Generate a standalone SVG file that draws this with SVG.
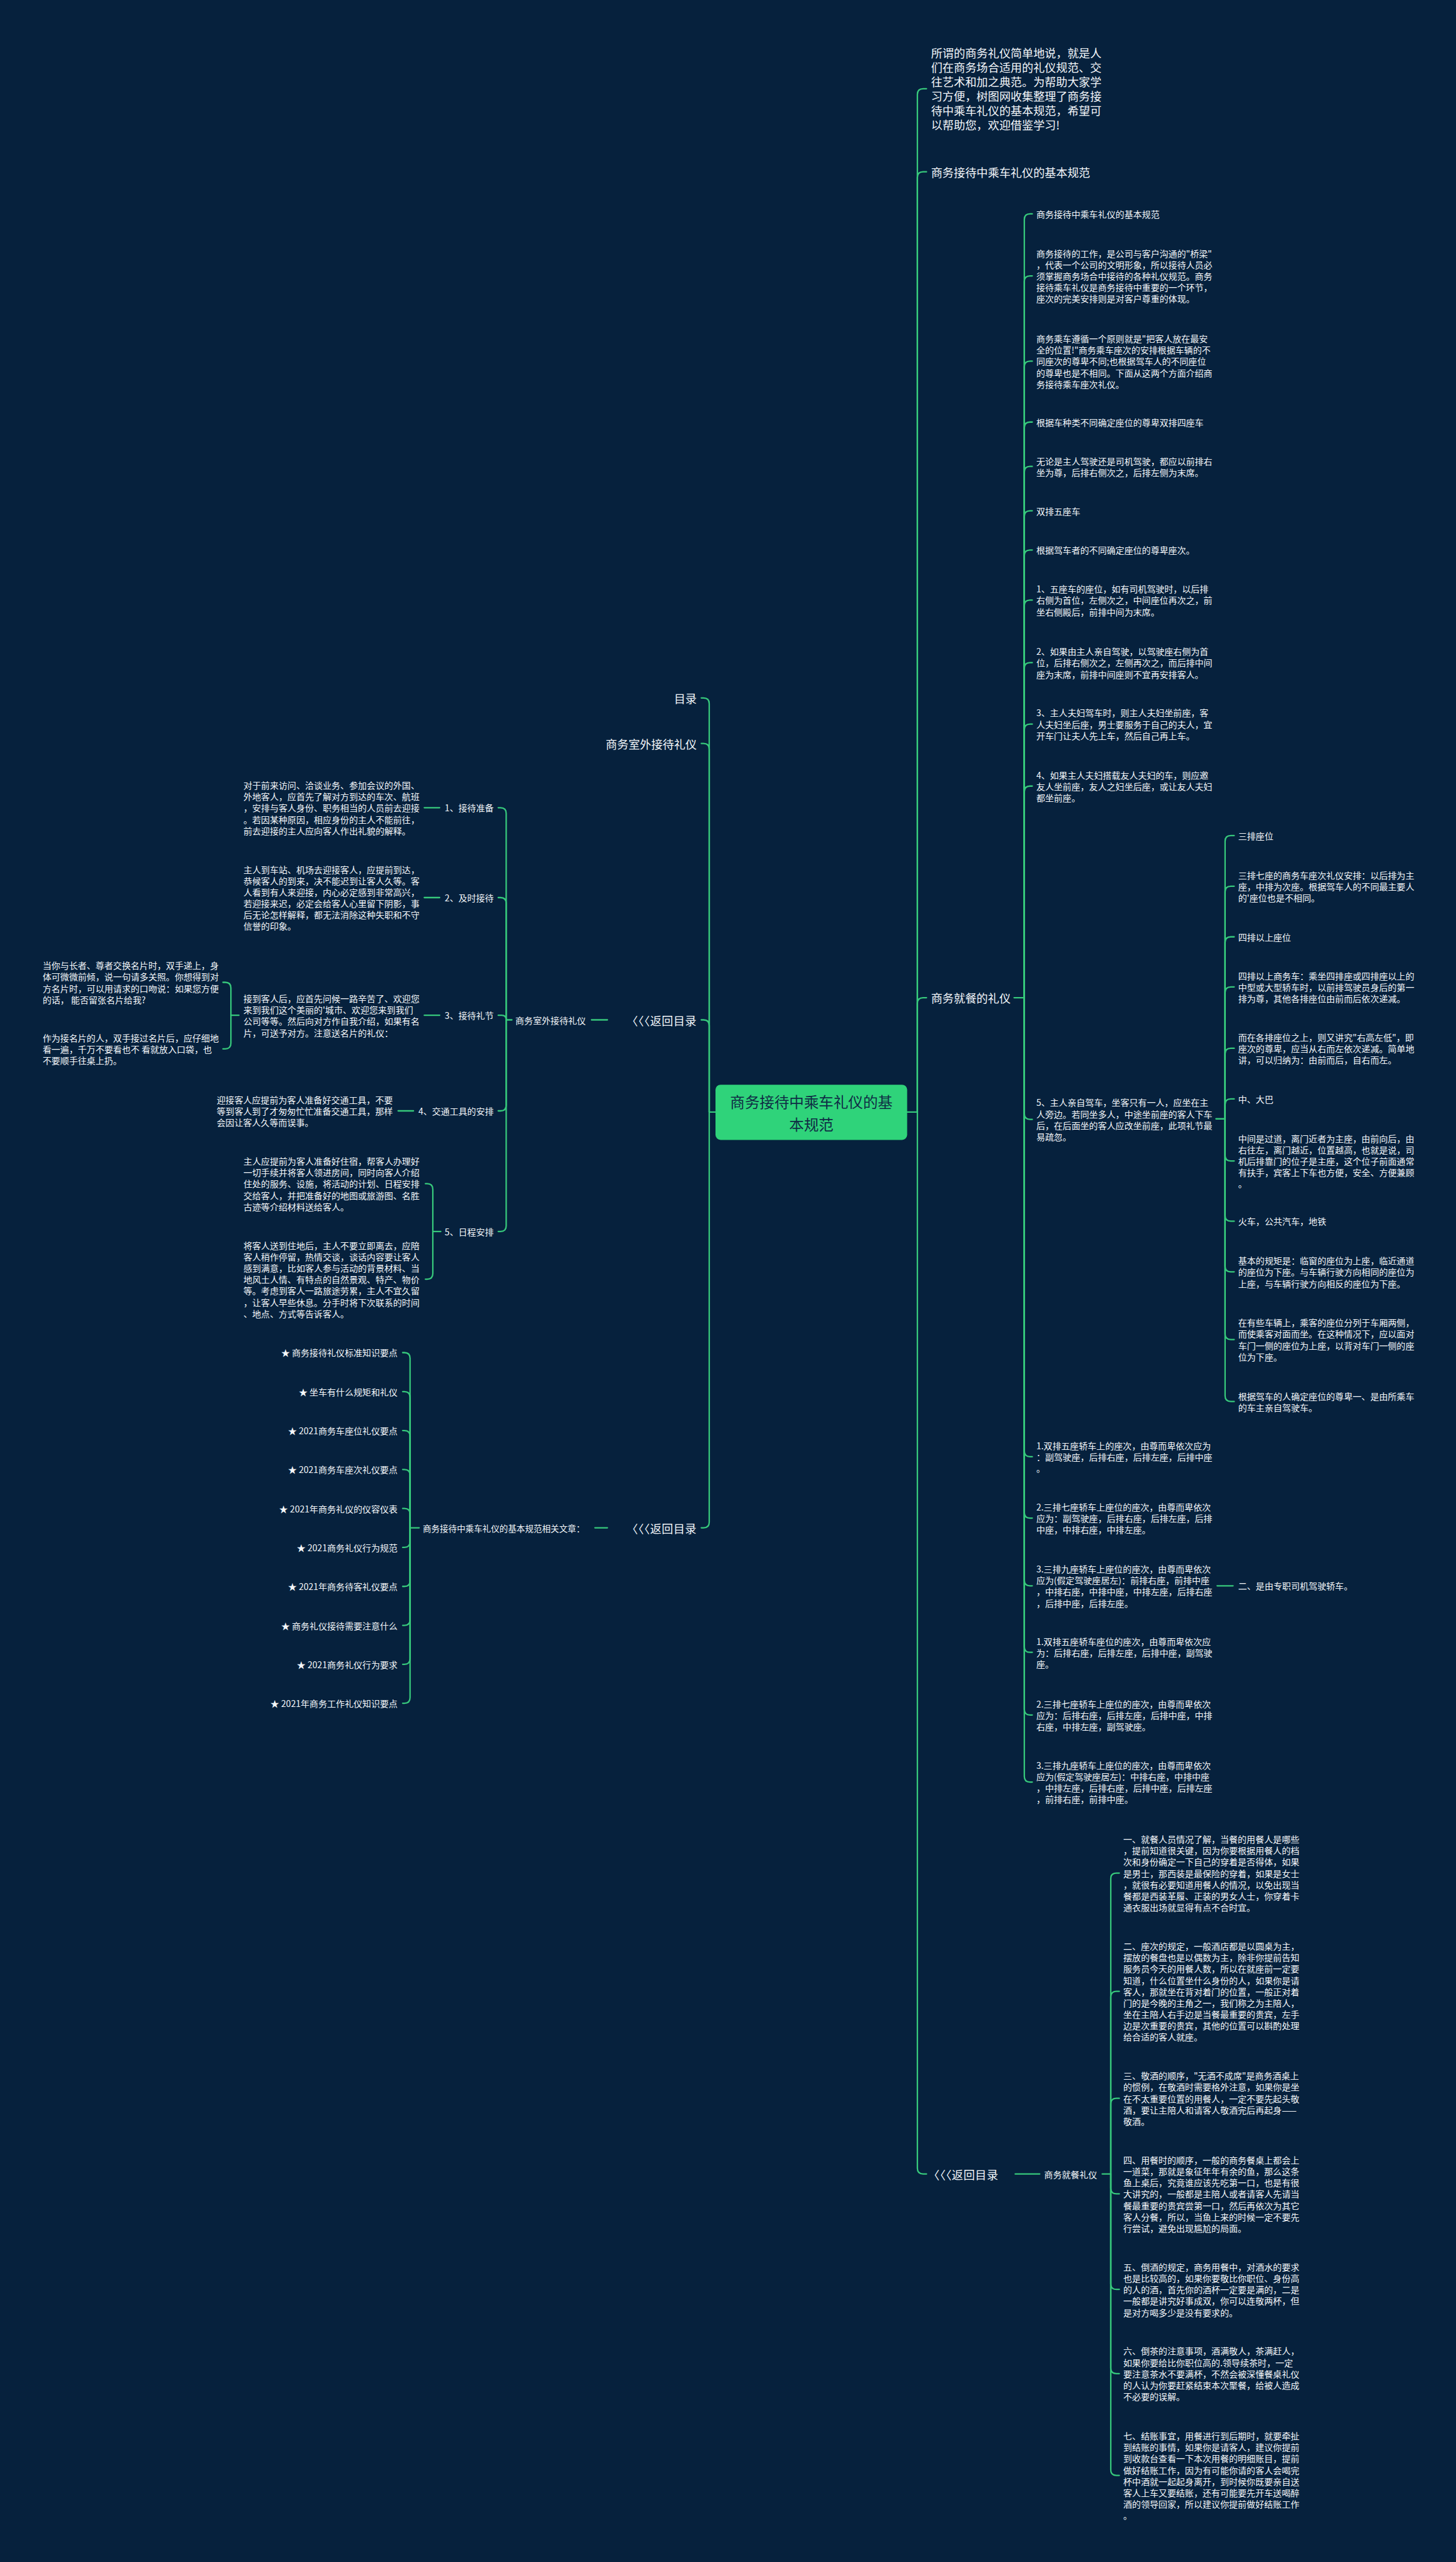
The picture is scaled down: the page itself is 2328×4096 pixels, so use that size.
<svg xmlns="http://www.w3.org/2000/svg" width="2328" height="4096" viewBox="0 0 2328 4096">
<style>
.ln{fill:none;stroke:#37c97c;stroke-width:2.5;stroke-linecap:round;stroke-linejoin:round}
.t{fill:#f4f7fa;font-family:"Noto Sans CJK SC","Liberation Sans",sans-serif;font-size:15.5px;dominant-baseline:central}
.b{font-size:20px}
.r{font-size:20px;letter-spacing:0.5px}
.s{font-size:15px}
.e{text-anchor:end}
.ct{fill:#0f2c45;font-family:"Noto Sans CJK SC","Liberation Sans",sans-serif;font-size:26px;text-anchor:middle;dominant-baseline:central}
</style>
<rect x="0" y="0" width="2328" height="4096" fill="#06213d"/>
<g transform="scale(0.909375)">
<g id="connectors">
<path class="ln" d="M1595,1955 L1613,1955"/>
<path class="ln" d="M1613,1955 L1613,166 Q1613,156 1623,156 L1629,156"/>
<path class="ln" d="M1613,1955 L1613,312 Q1613,302 1623,302 L1629,302"/>
<path class="ln" d="M1613,1955 L1613,1764 Q1613,1754 1623,1754 L1629,1754"/>
<path class="ln" d="M1613,1955 L1613,3812 Q1613,3822 1623,3822 L1629,3822"/>
<path class="ln" d="M1783,1754 L1801,1754"/>
<path class="ln" d="M1801,1754 L1801,386 Q1801,376 1811,376 L1815,376"/>
<path class="ln" d="M1801,1754 L1801,495 Q1801,485 1811,485 L1815,485"/>
<path class="ln" d="M1801,1754 L1801,645 Q1801,635 1811,635 L1815,635"/>
<path class="ln" d="M1801,1754 L1801,752 Q1801,742 1811,742 L1815,742"/>
<path class="ln" d="M1801,1754 L1801,830 Q1801,820 1811,820 L1815,820"/>
<path class="ln" d="M1801,1754 L1801,908 Q1801,898 1811,898 L1815,898"/>
<path class="ln" d="M1801,1754 L1801,977 Q1801,967 1811,967 L1815,967"/>
<path class="ln" d="M1801,1754 L1801,1065 Q1801,1055 1811,1055 L1815,1055"/>
<path class="ln" d="M1801,1754 L1801,1175 Q1801,1165 1811,1165 L1815,1165"/>
<path class="ln" d="M1801,1754 L1801,1283 Q1801,1273 1811,1273 L1815,1273"/>
<path class="ln" d="M1801,1754 L1801,1392 Q1801,1382 1811,1382 L1815,1382"/>
<path class="ln" d="M1801,1754 L1801,1958 Q1801,1968 1811,1968 L1815,1968"/>
<path class="ln" d="M1801,1754 L1801,2551 Q1801,2561 1811,2561 L1815,2561"/>
<path class="ln" d="M1801,1754 L1801,2659 Q1801,2669 1811,2669 L1815,2669"/>
<path class="ln" d="M1801,1754 L1801,2778 Q1801,2788 1811,2788 L1815,2788"/>
<path class="ln" d="M1801,1754 L1801,2895 Q1801,2905 1811,2905 L1815,2905"/>
<path class="ln" d="M1801,1754 L1801,3005 Q1801,3015 1811,3015 L1815,3015"/>
<path class="ln" d="M1801,1754 L1801,3123 Q1801,3133 1811,3133 L1815,3133"/>
<path class="ln" d="M2138,1967 L2154,1967"/>
<path class="ln" d="M2154,1967 L2154,1479 Q2154,1469 2164,1469 L2170,1469"/>
<path class="ln" d="M2154,1967 L2154,1568 Q2154,1558 2164,1558 L2170,1558"/>
<path class="ln" d="M2154,1967 L2154,1657 Q2154,1647 2164,1647 L2170,1647"/>
<path class="ln" d="M2154,1967 L2154,1745 Q2154,1735 2164,1735 L2170,1735"/>
<path class="ln" d="M2154,1967 L2154,1853 Q2154,1843 2164,1843 L2170,1843"/>
<path class="ln" d="M2154,1967 L2154,1942 Q2154,1932 2164,1932 L2170,1932"/>
<path class="ln" d="M2154,1967 L2154,2031 Q2154,2041 2164,2041 L2170,2041"/>
<path class="ln" d="M2154,1967 L2154,2137 Q2154,2147 2164,2147 L2170,2147"/>
<path class="ln" d="M2154,1967 L2154,2226 Q2154,2236 2164,2236 L2170,2236"/>
<path class="ln" d="M2154,1967 L2154,2345 Q2154,2355 2164,2355 L2170,2355"/>
<path class="ln" d="M2154,1967 L2154,2454 Q2154,2464 2164,2464 L2170,2464"/>
<path class="ln" d="M2140,2788 L2168,2788"/>
<path class="ln" d="M1785,3822 L1828,3822"/>
<path class="ln" d="M1938,3822 L1953,3822"/>
<path class="ln" d="M1953,3822 L1953,3303 Q1953,3293 1963,3293 L1968,3293"/>
<path class="ln" d="M1953,3822 L1953,3511 Q1953,3501 1963,3501 L1968,3501"/>
<path class="ln" d="M1953,3822 L1953,3699 Q1953,3689 1963,3689 L1968,3689"/>
<path class="ln" d="M1953,3822 L1953,3847 Q1953,3857 1963,3857 L1968,3857"/>
<path class="ln" d="M1953,3822 L1953,4015 Q1953,4025 1963,4025 L1968,4025"/>
<path class="ln" d="M1953,3822 L1953,4163 Q1953,4173 1963,4173 L1968,4173"/>
<path class="ln" d="M1953,3822 L1953,4342 Q1953,4352 1963,4352 L1968,4352"/>
<path class="ln" d="M1258,1955 L1247,1955"/>
<path class="ln" d="M1247,1955 L1247,1237 Q1247,1227 1237,1227 L1233,1227"/>
<path class="ln" d="M1247,1955 L1247,1317 Q1247,1307 1237,1307 L1233,1307"/>
<path class="ln" d="M1247,1955 L1247,1803 Q1247,1793 1237,1793 L1233,1793"/>
<path class="ln" d="M1247,1955 L1247,2676 Q1247,2686 1237,2686 L1233,2686"/>
<path class="ln" d="M1068,1793 L1040,1793"/>
<path class="ln" d="M900,1793 L890,1793"/>
<path class="ln" d="M890,1793 L890,1430 Q890,1420 880,1420 L876,1420"/>
<path class="ln" d="M890,1793 L890,1588 Q890,1578 880,1578 L876,1578"/>
<path class="ln" d="M890,1793 Q890,1785 882,1785 L876,1785"/>
<path class="ln" d="M890,1793 L890,1943 Q890,1953 880,1953 L876,1953"/>
<path class="ln" d="M890,1793 L890,2155 Q890,2165 880,2165 L876,2165"/>
<path class="ln" d="M773,1420 L746,1420"/>
<path class="ln" d="M773,1578 L746,1578"/>
<path class="ln" d="M773,1785 L746,1785"/>
<path class="ln" d="M420,1785 L406,1785"/>
<path class="ln" d="M406,1785 L406,1737 Q406,1727 396,1727 L392,1727"/>
<path class="ln" d="M406,1785 L406,1834 Q406,1844 396,1844 L392,1844"/>
<path class="ln" d="M727,1953 L700,1953"/>
<path class="ln" d="M775,2165 L761,2165"/>
<path class="ln" d="M761,2165 L761,2091 Q761,2081 751,2081 L748,2081"/>
<path class="ln" d="M761,2165 L761,2239 Q761,2249 751,2249 L748,2249"/>
<path class="ln" d="M1068,2686 L1046,2686"/>
<path class="ln" d="M737,2686 L721,2686"/>
<path class="ln" d="M721,2686 L721,2388 Q721,2378 711,2378 L708,2378"/>
<path class="ln" d="M721,2686 L721,2456.5 Q721,2446.5 711,2446.5 L708,2446.5"/>
<path class="ln" d="M721,2686 L721,2525 Q721,2515 711,2515 L708,2515"/>
<path class="ln" d="M721,2686 L721,2593.5 Q721,2583.5 711,2583.5 L708,2583.5"/>
<path class="ln" d="M721,2686 L721,2662 Q721,2652 711,2652 L708,2652"/>
<path class="ln" d="M721,2686 L721,2710.5 Q721,2720.5 711,2720.5 L708,2720.5"/>
<path class="ln" d="M721,2686 L721,2779 Q721,2789 711,2789 L708,2789"/>
<path class="ln" d="M721,2686 L721,2847.5 Q721,2857.5 711,2857.5 L708,2857.5"/>
<path class="ln" d="M721,2686 L721,2916 Q721,2926 711,2926 L708,2926"/>
<path class="ln" d="M721,2686 L721,2984.5 Q721,2994.5 711,2994.5 L708,2994.5"/>
</g>
<g id="n-center">
<rect x="1258" y="1907" width="337" height="97" rx="9" fill="#2fd37a"/>
<text class="ct"><tspan x="1426.5" y="1937">商务接待中乘车礼仪的基</tspan><tspan x="1426.5" y="1976">本规范</tspan></text>
</g>
<g id="n-intro"><text class="t b"><tspan x="1637" y="92">所谓的商务礼仪简单地说，就是人</tspan><tspan x="1637" y="117.4">们在商务场合适用的礼仪规范、交</tspan><tspan x="1637" y="142.8">往艺术和加之典范。为帮助大家学</tspan><tspan x="1637" y="168.2">习方便，树图网收集整理了商务接</tspan><tspan x="1637" y="193.6">待中乘车礼仪的基本规范，希望可</tspan><tspan x="1637" y="219">以帮助您，欢迎借鉴学习!</tspan></text></g>
<g id="n-r-title"><text class="t b" x="1637" y="302">商务接待中乘车礼仪的基本规范</text></g>
<g id="n-r-dining"><text class="t b" x="1637" y="1754">商务就餐的礼仪</text></g>
<g id="n-r-back"><text class="t r" x="1632" y="3822">〈〈〈返回目录</text></g>
<g id="n-a"><text class="t" x="1822" y="376">商务接待中乘车礼仪的基本规范</text></g>
<g id="n-b"><text class="t"><tspan x="1822" y="445">商务接待的工作，是公司与客户沟通的"桥梁"</tspan><tspan x="1822" y="465">，代表一个公司的文明形象，所以接待人员必</tspan><tspan x="1822" y="485">须掌握商务场合中接待的各种礼仪规范。商务</tspan><tspan x="1822" y="505">接待乘车礼仪是商务接待中重要的一个环节，</tspan><tspan x="1822" y="525">座次的完美安排则是对客户尊重的体现。</tspan></text></g>
<g id="n-c"><text class="t"><tspan x="1822" y="595">商务乘车遵循一个原则就是"把客人放在最安</tspan><tspan x="1822" y="615">全的位置!"商务乘车座次的安排根据车辆的不</tspan><tspan x="1822" y="635">同座次的尊卑不同;也根据驾车人的不同座位</tspan><tspan x="1822" y="655">的尊卑也是不相同。下面从这两个方面介绍商</tspan><tspan x="1822" y="675">务接待乘车座次礼仪。</tspan></text></g>
<g id="n-d"><text class="t" x="1822" y="742">根据车种类不同确定座位的尊卑双排四座车</text></g>
<g id="n-e"><text class="t"><tspan x="1822" y="810">无论是主人驾驶还是司机驾驶，都应以前排右</tspan><tspan x="1822" y="830">坐为尊，后排右侧次之，后排左侧为末席。</tspan></text></g>
<g id="n-f"><text class="t" x="1822" y="898">双排五座车</text></g>
<g id="n-g"><text class="t" x="1822" y="967">根据驾车者的不同确定座位的尊卑座次。</text></g>
<g id="n-h"><text class="t"><tspan x="1822" y="1035">1、五座车的座位，如有司机驾驶时，以后排</tspan><tspan x="1822" y="1055">右侧为首位，左侧次之，中间座位再次之，前</tspan><tspan x="1822" y="1075">坐右侧殿后，前排中间为末席。</tspan></text></g>
<g id="n-i"><text class="t"><tspan x="1822" y="1145">2、如果由主人亲自驾驶，以驾驶座右侧为首</tspan><tspan x="1822" y="1165">位，后排右侧次之，左侧再次之，而后排中间</tspan><tspan x="1822" y="1185">座为末席，前排中间座则不宜再安排客人。</tspan></text></g>
<g id="n-j"><text class="t"><tspan x="1822" y="1253">3、主人夫妇驾车时，则主人夫妇坐前座，客</tspan><tspan x="1822" y="1273">人夫妇坐后座，男士要服务于自己的夫人，宜</tspan><tspan x="1822" y="1293">开车门让夫人先上车，然后自己再上车。</tspan></text></g>
<g id="n-k"><text class="t"><tspan x="1822" y="1362">4、如果主人夫妇搭载友人夫妇的车，则应邀</tspan><tspan x="1822" y="1382">友人坐前座，友人之妇坐后座，或让友人夫妇</tspan><tspan x="1822" y="1402">都坐前座。</tspan></text></g>
<g id="n-l"><text class="t"><tspan x="1822" y="1938">5、主人亲自驾车，坐客只有一人，应坐在主</tspan><tspan x="1822" y="1958">人旁边。若同坐多人，中途坐前座的客人下车</tspan><tspan x="1822" y="1978">后，在后面坐的客人应改坐前座，此项礼节最</tspan><tspan x="1822" y="1998">易疏忽。</tspan></text></g>
<g id="n-l1"><text class="t" x="2177" y="1469">三排座位</text></g>
<g id="n-l2"><text class="t"><tspan x="2177" y="1538">三排七座的商务车座次礼仪安排：以后排为主</tspan><tspan x="2177" y="1558">座，中排为次座。根据驾车人的不同最主要人</tspan><tspan x="2177" y="1578">的'座位也是不相同。</tspan></text></g>
<g id="n-l3"><text class="t" x="2177" y="1647">四排以上座位</text></g>
<g id="n-l4"><text class="t"><tspan x="2177" y="1715">四排以上商务车：乘坐四排座或四排座以上的</tspan><tspan x="2177" y="1735">中型或大型轿车时，以前排驾驶员身后的第一</tspan><tspan x="2177" y="1755">排为尊，其他各排座位由前而后依次递减。</tspan></text></g>
<g id="n-l5"><text class="t"><tspan x="2177" y="1823">而在各排座位之上，则又讲究"右高左低"，即</tspan><tspan x="2177" y="1843">座次的尊卑，应当从右而左依次递减。简单地</tspan><tspan x="2177" y="1863">讲，可以归纳为：由前而后，自右而左。</tspan></text></g>
<g id="n-l6"><text class="t" x="2177" y="1932">中、大巴</text></g>
<g id="n-l7"><text class="t"><tspan x="2177" y="2001">中间是过道，离门近者为主座，由前向后，由</tspan><tspan x="2177" y="2021">右往左，离门越近，位置越高，也就是说，司</tspan><tspan x="2177" y="2041">机后排靠门的位子是主座，这个位子前面通常</tspan><tspan x="2177" y="2061">有扶手，宾客上下车也方便，安全、方便兼顾</tspan><tspan x="2177" y="2081">。</tspan></text></g>
<g id="n-l8"><text class="t" x="2177" y="2147">火车，公共汽车，地铁</text></g>
<g id="n-l9"><text class="t"><tspan x="2177" y="2216">基本的规矩是：临窗的座位为上座，临近通道</tspan><tspan x="2177" y="2236">的座位为下座。与车辆行驶方向相同的座位为</tspan><tspan x="2177" y="2256">上座，与车辆行驶方向相反的座位为下座。</tspan></text></g>
<g id="n-l10"><text class="t"><tspan x="2177" y="2325">在有些车辆上，乘客的座位分列于车厢两侧，</tspan><tspan x="2177" y="2345">而使乘客对面而坐。在这种情况下，应以面对</tspan><tspan x="2177" y="2365">车门一侧的座位为上座，以背对车门一侧的座</tspan><tspan x="2177" y="2385">位为下座。</tspan></text></g>
<g id="n-l11"><text class="t"><tspan x="2177" y="2454">根据驾车的人确定座位的尊卑一、是由所乘车</tspan><tspan x="2177" y="2474">的车主亲自驾驶车。</tspan></text></g>
<g id="n-m1"><text class="t"><tspan x="1822" y="2541">1.双排五座轿车上的座次，由尊而卑依次应为</tspan><tspan x="1822" y="2561">：副驾驶座，后排右座，后排左座，后排中座</tspan><tspan x="1822" y="2581">。</tspan></text></g>
<g id="n-m2"><text class="t"><tspan x="1822" y="2649">2.三排七座轿车上座位的座次，由尊而卑依次</tspan><tspan x="1822" y="2669">应为：副驾驶座，后排右座，后排左座，后排</tspan><tspan x="1822" y="2689">中座，中排右座，中排左座。</tspan></text></g>
<g id="n-m3"><text class="t"><tspan x="1822" y="2758">3.三排九座轿车上座位的座次，由尊而卑依次</tspan><tspan x="1822" y="2778">应为(假定驾驶座居左)：前排右座，前排中座</tspan><tspan x="1822" y="2798">，中排右座，中排中座，中排左座，后排右座</tspan><tspan x="1822" y="2818">，后排中座，后排左座。</tspan></text></g>
<g id="n-m3a"><text class="t" x="2177" y="2788">二、是由专职司机驾驶轿车。</text></g>
<g id="n-m4"><text class="t"><tspan x="1822" y="2885">1.双排五座轿车座位的座次，由尊而卑依次应</tspan><tspan x="1822" y="2905">为：后排右座，后排左座，后排中座，副驾驶</tspan><tspan x="1822" y="2925">座。</tspan></text></g>
<g id="n-m5"><text class="t"><tspan x="1822" y="2995">2.三排七座轿车上座位的座次，由尊而卑依次</tspan><tspan x="1822" y="3015">应为：后排右座，后排左座，后排中座，中排</tspan><tspan x="1822" y="3035">右座，中排左座，副驾驶座。</tspan></text></g>
<g id="n-m6"><text class="t"><tspan x="1822" y="3103">3.三排九座轿车上座位的座次，由尊而卑依次</tspan><tspan x="1822" y="3123">应为(假定驾驶座居左)：中排右座，中排中座</tspan><tspan x="1822" y="3143">，中排左座，后排右座，后排中座，后排左座</tspan><tspan x="1822" y="3163">，前排右座，前排中座。</tspan></text></g>
<g id="n-dining2"><text class="t" x="1836" y="3822">商务就餐礼仪</text></g>
<g id="n-n1"><text class="t"><tspan x="1975" y="3233">一、就餐人员情况了解，当餐的用餐人是哪些</tspan><tspan x="1975" y="3253">，提前知道很关键，因为你要根据用餐人的档</tspan><tspan x="1975" y="3273">次和身份确定一下自己的穿着是否得体，如果</tspan><tspan x="1975" y="3293">是男士，那西装是最保险的穿着，如果是女士</tspan><tspan x="1975" y="3313">，就很有必要知道用餐人的情况，以免出现当</tspan><tspan x="1975" y="3333">餐都是西装革履、正装的男女人士，你穿着卡</tspan><tspan x="1975" y="3353">通衣服出场就显得有点不合时宜。</tspan></text></g>
<g id="n-n2"><text class="t"><tspan x="1975" y="3421">二、座次的规定，一般酒店都是以圆桌为主，</tspan><tspan x="1975" y="3441">摆放的餐盘也是以偶数为主，除非你提前告知</tspan><tspan x="1975" y="3461">服务员今天的用餐人数，所以在就座前一定要</tspan><tspan x="1975" y="3481">知道，什么位置坐什么身份的人，如果你是请</tspan><tspan x="1975" y="3501">客人，那就坐在背对着门的位置，一般正对着</tspan><tspan x="1975" y="3521">门的是今晚的主角之一，我们称之为主陪人，</tspan><tspan x="1975" y="3541">坐在主陪人右手边是当餐最重要的贵宾，左手</tspan><tspan x="1975" y="3561">边是次重要的贵宾，其他的位置可以斟酌处理</tspan><tspan x="1975" y="3581">给合适的客人就座。</tspan></text></g>
<g id="n-n3"><text class="t"><tspan x="1975" y="3649">三、敬酒的顺序，"无酒不成席"是商务酒桌上</tspan><tspan x="1975" y="3669">的惯例，在敬酒时需要格外注意，如果你是坐</tspan><tspan x="1975" y="3689">在不太重要位置的用餐人，一定不要先起头敬</tspan><tspan x="1975" y="3709">酒，要让主陪人和请客人敬酒完后再起身——</tspan><tspan x="1975" y="3729">敬酒。</tspan></text></g>
<g id="n-n4"><text class="t"><tspan x="1975" y="3797">四、用餐时的顺序，一般的商务餐桌上都会上</tspan><tspan x="1975" y="3817">一道菜，那就是象征年年有余的鱼，那么这条</tspan><tspan x="1975" y="3837">鱼上桌后，究竟谁应该先吃第一口，也是有很</tspan><tspan x="1975" y="3857">大讲究的，一般都是主陪人或者请客人先请当</tspan><tspan x="1975" y="3877">餐最重要的贵宾尝第一口，然后再依次为其它</tspan><tspan x="1975" y="3897">客人分餐，所以，当鱼上来的时候一定不要先</tspan><tspan x="1975" y="3917">行尝试，避免出现尴尬的局面。</tspan></text></g>
<g id="n-n5"><text class="t"><tspan x="1975" y="3985">五、倒酒的规定，商务用餐中，对酒水的要求</tspan><tspan x="1975" y="4005">也是比较高的，如果你要敬比你职位、身份高</tspan><tspan x="1975" y="4025">的人的酒，首先你的酒杯一定要是满的，二是</tspan><tspan x="1975" y="4045">一般都是讲究好事成双，你可以连敬两杯，但</tspan><tspan x="1975" y="4065">是对方喝多少是没有要求的。</tspan></text></g>
<g id="n-n6"><text class="t"><tspan x="1975" y="4133">六、倒茶的注意事项，酒满敬人，茶满赶人，</tspan><tspan x="1975" y="4153">如果你要给比你职位高的.领导续茶时，一定</tspan><tspan x="1975" y="4173">要注意茶水不要满杯，不然会被深懂餐桌礼仪</tspan><tspan x="1975" y="4193">的人认为你要赶紧结束本次聚餐，给被人造成</tspan><tspan x="1975" y="4213">不必要的误解。</tspan></text></g>
<g id="n-n7"><text class="t"><tspan x="1975" y="4282">七、结账事宜，用餐进行到后期时，就要牵扯</tspan><tspan x="1975" y="4302">到结账的事情，如果你是请客人，建议你提前</tspan><tspan x="1975" y="4322">到收款台查看一下本次用餐的明细账目，提前</tspan><tspan x="1975" y="4342">做好结账工作，因为有可能你请的客人会喝完</tspan><tspan x="1975" y="4362">杯中酒就一起起身离开，到时候你既要亲自送</tspan><tspan x="1975" y="4382">客人上车又要结账，还有可能要先开车送喝醉</tspan><tspan x="1975" y="4402">酒的领导回家，所以建议你提前做好结账工作</tspan><tspan x="1975" y="4422">。</tspan></text></g>
<g id="n-l-toc"><text class="t b e" x="1225" y="1227">目录</text></g>
<g id="n-l-outdoor"><text class="t b e" x="1225" y="1307">商务室外接待礼仪</text></g>
<g id="n-l-back1"><text class="t r e" x="1225" y="1793">〈〈〈返回目录</text></g>
<g id="n-l-back2"><text class="t r e" x="1225" y="2686">〈〈〈返回目录</text></g>
<g id="n-outdoor2"><text class="t e" x="1030" y="1793">商务室外接待礼仪</text></g>
<g id="n-s1"><text class="t e" x="868" y="1420">1、接待准备</text></g>
<g id="n-s2"><text class="t e" x="868" y="1578">2、及时接待</text></g>
<g id="n-s3"><text class="t e" x="868" y="1785">3、接待礼节</text></g>
<g id="n-s4"><text class="t e" x="868" y="1953">4、交通工具的安排</text></g>
<g id="n-s5"><text class="t e" x="868" y="2165">5、日程安排</text></g>
<g id="n-s1a"><text class="t"><tspan x="428" y="1380">对于前来访问、洽谈业务、参加会议的外国、</tspan><tspan x="428" y="1400">外地客人，应首先了解对方到达的车次、航班</tspan><tspan x="428" y="1420">，安排与客人身份、职务相当的人员前去迎接</tspan><tspan x="428" y="1440">。若因某种原因，相应身份的主人不能前往，</tspan><tspan x="428" y="1460">前去迎接的主人应向客人作出礼貌的解释。</tspan></text></g>
<g id="n-s2a"><text class="t"><tspan x="428" y="1528">主人到车站、机场去迎接客人，应提前到达，</tspan><tspan x="428" y="1548">恭候客人的到来，决不能迟到让客人久等。客</tspan><tspan x="428" y="1568">人看到有人来迎接，内心必定感到非常高兴，</tspan><tspan x="428" y="1588">若迎接来迟，必定会给客人心里留下阴影，事</tspan><tspan x="428" y="1608">后无论怎样解释，都无法消除这种失职和不守</tspan><tspan x="428" y="1628">信誉的印象。</tspan></text></g>
<g id="n-s3a"><text class="t"><tspan x="428" y="1755">接到客人后，应首先问候一路辛苦了、欢迎您</tspan><tspan x="428" y="1775">来到我们这个美丽的'城市、欢迎您来到我们</tspan><tspan x="428" y="1795">公司等等。然后向对方作自我介绍，如果有名</tspan><tspan x="428" y="1815">片，可送予对方。注意送名片的礼仪：</tspan></text></g>
<g id="n-s3b"><text class="t"><tspan x="75" y="1697">当你与长者、尊者交换名片时，双手递上，身</tspan><tspan x="75" y="1717">体可微微前倾，说一句请多关照。你想得到对</tspan><tspan x="75" y="1737">方名片时，可以用请求的口吻说：如果您方便</tspan><tspan x="75" y="1757">的话， 能否留张名片给我?</tspan></text></g>
<g id="n-s3c"><text class="t"><tspan x="75" y="1824">作为接名片的人，双手接过名片后，应仔细地</tspan><tspan x="75" y="1844">看一遍，千万不要看也不 看就放入口袋，也</tspan><tspan x="75" y="1864">不要顺手往桌上扔。</tspan></text></g>
<g id="n-s4a"><text class="t"><tspan x="381" y="1933">迎接客人应提前为客人准备好交通工具，不要</tspan><tspan x="381" y="1953">等到客人到了才匆匆忙忙准备交通工具，那样</tspan><tspan x="381" y="1973">会因让客人久等而误事。</tspan></text></g>
<g id="n-s5a"><text class="t"><tspan x="428" y="2041">主人应提前为客人准备好住宿，帮客人办理好</tspan><tspan x="428" y="2061">一切手续并将客人领进房间，同时向客人介绍</tspan><tspan x="428" y="2081">住处的服务、设施，将活动的计划、日程安排</tspan><tspan x="428" y="2101">交给客人，并把准备好的地图或旅游图、名胜</tspan><tspan x="428" y="2121">古迹等介绍材料送给客人。</tspan></text></g>
<g id="n-s5b"><text class="t"><tspan x="428" y="2189">将客人送到住地后，主人不要立即离去，应陪</tspan><tspan x="428" y="2209">客人稍作停留，热情交谈，谈话内容要让客人</tspan><tspan x="428" y="2229">感到满意，比如客人参与活动的背景材料、当</tspan><tspan x="428" y="2249">地风土人情、有特点的自然景观、特产、物价</tspan><tspan x="428" y="2269">等。考虑到客人一路旅途劳累，主人不宜久留</tspan><tspan x="428" y="2289">，让客人早些休息。分手时将下次联系的时间</tspan><tspan x="428" y="2309">、地点、方式等告诉客人。</tspan></text></g>
<g id="n-related"><text class="t s e" x="1028" y="2686">商务接待中乘车礼仪的基本规范相关文章：</text></g>
<g id="n-rel1"><text class="t e" x="699" y="2378">★ 商务接待礼仪标准知识要点</text></g>
<g id="n-rel2"><text class="t e" x="699" y="2446.5">★ 坐车有什么规矩和礼仪</text></g>
<g id="n-rel3"><text class="t e" x="699" y="2515">★ 2021商务车座位礼仪要点</text></g>
<g id="n-rel4"><text class="t e" x="699" y="2583.5">★ 2021商务车座次礼仪要点</text></g>
<g id="n-rel5"><text class="t e" x="699" y="2652">★ 2021年商务礼仪的仪容仪表</text></g>
<g id="n-rel6"><text class="t e" x="699" y="2720.5">★ 2021商务礼仪行为规范</text></g>
<g id="n-rel7"><text class="t e" x="699" y="2789">★ 2021年商务待客礼仪要点</text></g>
<g id="n-rel8"><text class="t e" x="699" y="2857.5">★ 商务礼仪接待需要注意什么</text></g>
<g id="n-rel9"><text class="t e" x="699" y="2926">★ 2021商务礼仪行为要求</text></g>
<g id="n-rel10"><text class="t e" x="699" y="2994.5">★ 2021年商务工作礼仪知识要点</text></g>
</g>
</svg>
